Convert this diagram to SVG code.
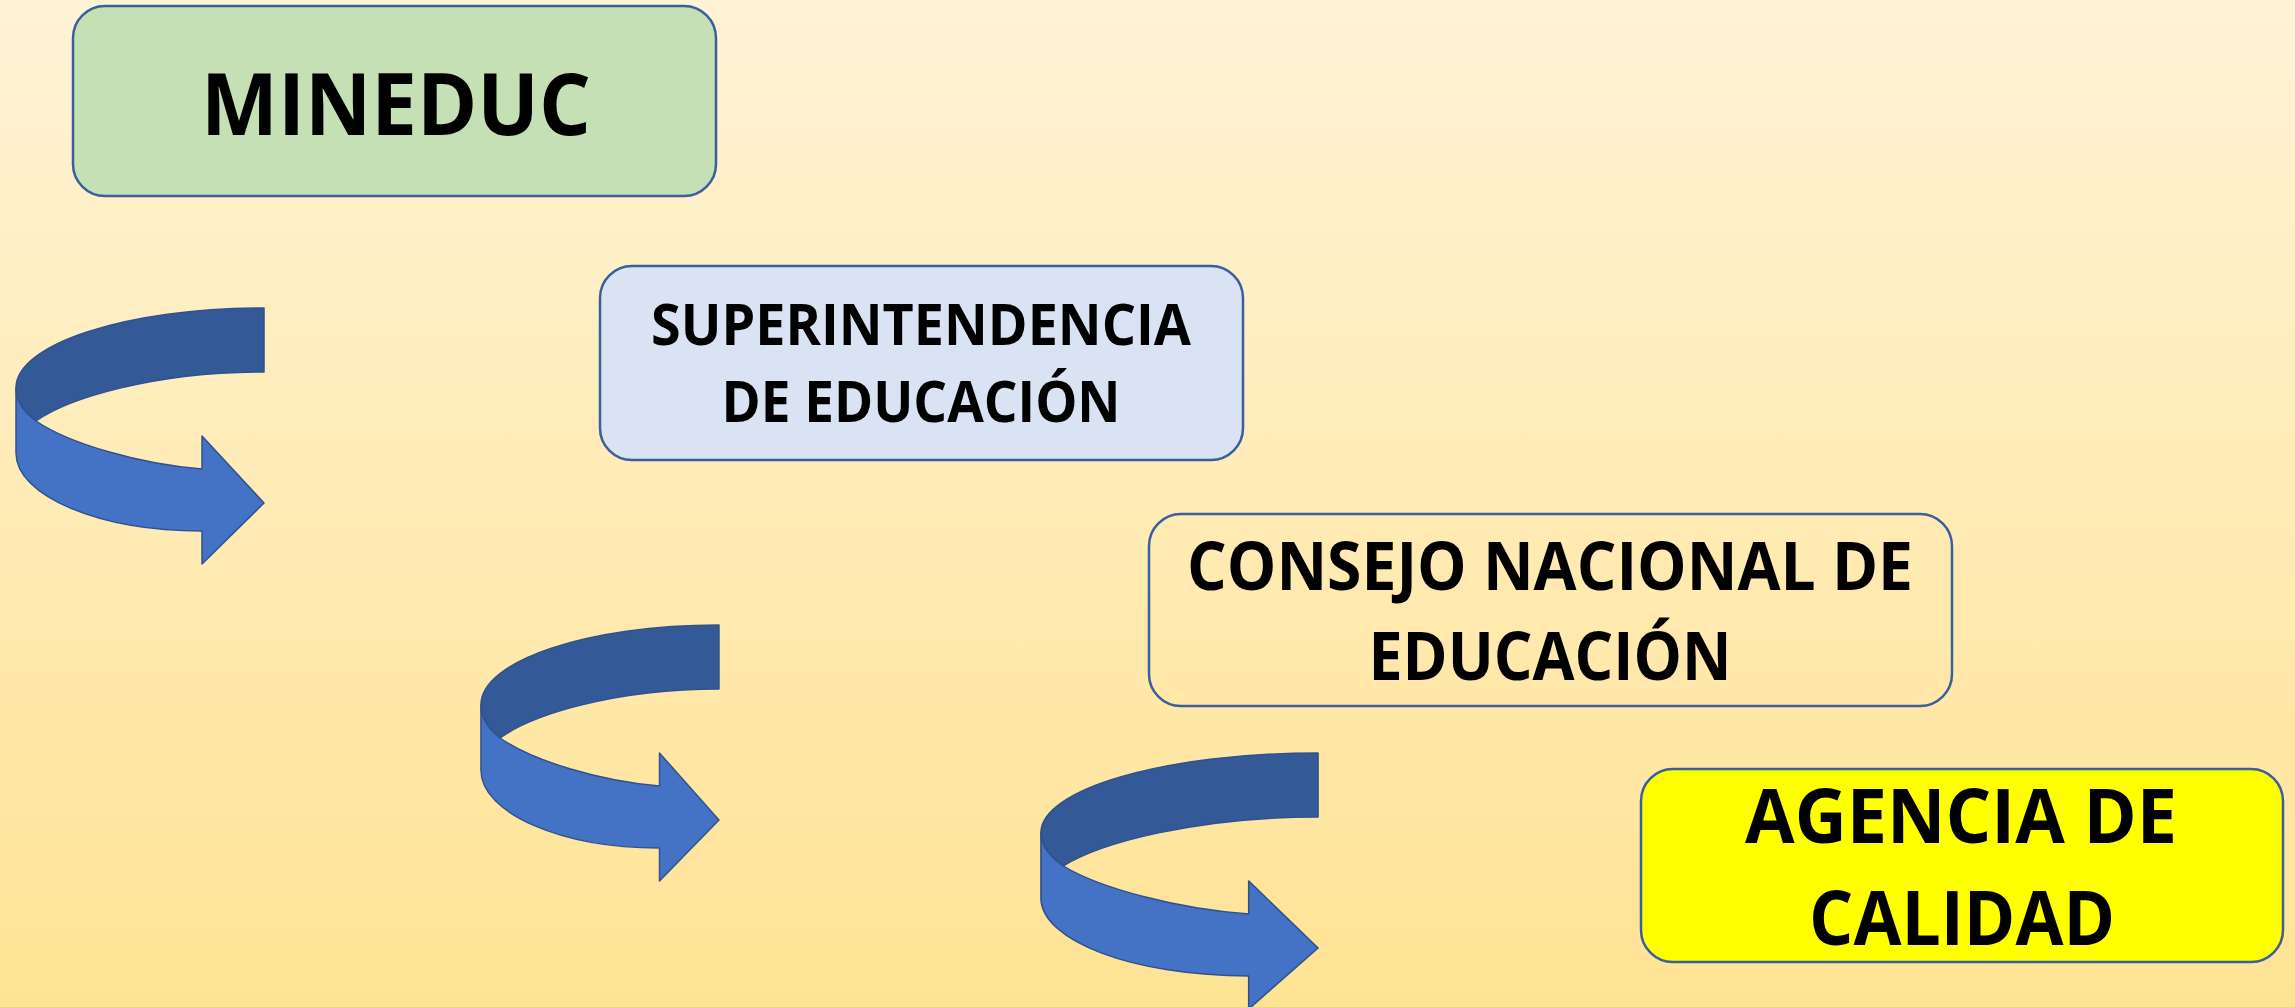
<svg xmlns="http://www.w3.org/2000/svg" width="2295" height="1007" viewBox="0 0 2295 1007">
<defs>
<linearGradient id="bg" x1="0" y1="0" x2="0" y2="1">
<stop offset="0" stop-color="#FFF3D6"/>
<stop offset="1" stop-color="#FFE394"/>
</linearGradient>
<g id="arrow">
<path class="dark" d="M0,0 C-137,0 -248,36 -248,80 C-248,92 -240,104 -228,113 C-195,90 -110,64 0,64 Z"/>
<path class="light" d="M-248,80 L-248,145 C-248,188 -165,223 -62,223 L-62,256 L0,195 L-62,128 L-62,161 C-124,156 -194,136 -228,113 C-240,104 -248,92 -248,80 Z"/>
</g>
</defs>
<style>
.box{stroke:#3A5F9E;stroke-width:2.5}
.dark{fill:#335A97;stroke:#2F528F;stroke-width:1.5;stroke-linejoin:round}
.light{fill:#4472C4;stroke:#2F528F;stroke-width:1.5;stroke-linejoin:round}
.t{font-family:"Open Sans","Liberation Sans",sans-serif;font-weight:bold;fill:#000;text-anchor:middle}
</style>
<rect x="0" y="0" width="2295" height="1007" fill="url(#bg)"/>
<g id="connectors">
<use href="#arrow" transform="translate(264,308)"/>
<use href="#arrow" transform="translate(719,625) scale(0.96,1)"/>
<use href="#arrow" transform="translate(1318,753) scale(1.117,1)"/>
</g>
<g id="mineduc">
<rect class="box" x="73" y="6" width="643" height="190" rx="32" fill="#C5E0B4"/>
<text class="t" x="396" y="135" font-size="86" textLength="390" lengthAdjust="spacingAndGlyphs">MINEDUC</text>
</g>
<g id="superintendencia">
<rect class="box" x="600" y="266" width="643" height="194" rx="32" fill="#DAE3F3"/>
<text class="t" x="921" y="345" font-size="58" textLength="540" lengthAdjust="spacingAndGlyphs">SUPERINTENDENCIA</text>
<text class="t" x="921" y="422" font-size="58" textLength="399" lengthAdjust="spacingAndGlyphs">DE EDUCACIÓN</text>
</g>
<g id="consejo">
<rect class="box" x="1149" y="514" width="803" height="192" rx="32" fill="none"/>
<text class="t" x="1550" y="590" font-size="66" textLength="726" lengthAdjust="spacingAndGlyphs">CONSEJO NACIONAL DE</text>
<text class="t" x="1550" y="680" font-size="66" textLength="363" lengthAdjust="spacingAndGlyphs">EDUCACIÓN</text>
</g>
<g id="agencia">
<rect class="box" x="1641" y="769" width="642" height="193" rx="32" fill="#FFFF00"/>
<text class="t" x="1961" y="843" font-size="76" textLength="432" lengthAdjust="spacingAndGlyphs">AGENCIA DE</text>
<text class="t" x="1962" y="945" font-size="76" textLength="306" lengthAdjust="spacingAndGlyphs">CALIDAD</text>
</g>
</svg>
